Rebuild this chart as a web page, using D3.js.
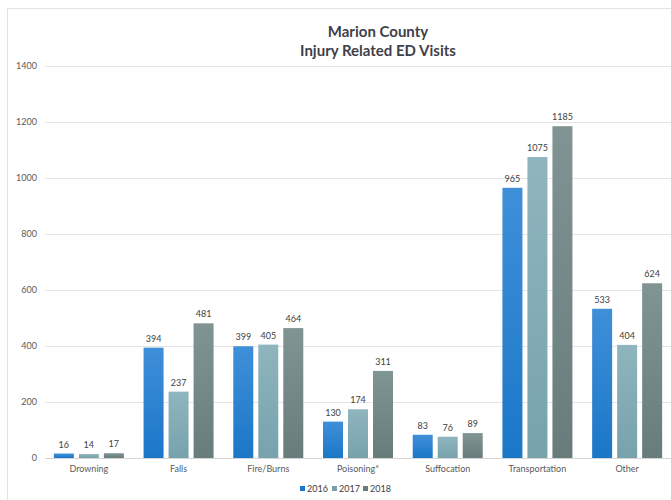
<!DOCTYPE html>
<html>
<head>
<meta charset="utf-8">
<script src="https://cdn.jsdelivr.net/npm/d3@7"></script>
<style>
  body { margin: 0; background: #fff; }
  svg { display: block; font-family: Lato, "Open Sans", sans-serif; }
</style>
</head>
<body>
<svg id="chart" width="671" height="500"></svg>
<script>
const categories = ['Drowning', 'Falls', 'Fire/Burns', 'Poisoning*', 'Suffocation', 'Transportation', 'Other'];
const years = ['2016', '2017', '2018'];
const values2016 = [16, 394, 399, 130, 83, 965, 533];
const values2017 = [14, 237, 405, 174, 76, 1075, 404];
const values2018 = [17, 481, 464, 311, 89, 1185, 624];
const yTicks = [0, 200, 400, 600, 800, 1000, 1200, 1400];

const seriesValues = [values2016, values2017, values2018];
// top/bottom colours of each bar gradient
const seriesColors = [
  ['#3f8fd9', '#1b77c7'],
  ['#8fb5be', '#77a2ac'],
  ['#819494', '#697c7c']
];

const svg = d3.select('#chart');
const margin = { left: 44, right: 671 - 672, top: 66, bottom: 500 - 458 };

// frame
svg.append('rect')
  .attr('x', 7.5).attr('y', 8.5)
  .attr('width', 700).attr('height', 600)
  .attr('fill', 'none')
  .attr('stroke', '#e3e3e3');

const defs = svg.append('defs');
seriesColors.forEach((c, i) => {
  const g = defs.append('linearGradient')
    .attr('id', 'grad' + i)
    .attr('x1', 0).attr('y1', 0).attr('x2', 0).attr('y2', 1);
  g.append('stop').attr('offset', '0%').attr('stop-color', c[0]);
  g.append('stop').attr('offset', '100%').attr('stop-color', c[1]);
});

const x0 = d3.scaleBand()
  .domain(categories)
  .range([44, 672])
  .padding(0);

const x1 = d3.scaleBand()
  .domain(years)
  .range([0, 70])
  .paddingInner(0.2);

const groupOffset = (x0.bandwidth() - 70) / 2;

const y = d3.scaleLinear()
  .domain([0, 1400])
  .range([458, 66]);

// gridlines
svg.append('g')
  .selectAll('line')
  .data(yTicks)
  .enter().append('line')
  .attr('x1', 45).attr('x2', 671)
  .attr('y1', (d) => Math.round(y(d)) + 0.5)
  .attr('y2', (d) => Math.round(y(d)) + 0.5)
  .attr('stroke', (d) => d === 0 ? '#d4d4d4' : '#e4e4e4')
  .attr('stroke-width', 1);

// y tick labels
svg.append('g')
  .selectAll('text')
  .data(yTicks)
  .enter().append('text')
  .attr('x', 37)
  .attr('y', (d) => y(d) + 3)
  .attr('text-anchor', 'end')
  .style('font-size', '9px')
  .style('fill', '#595959')
  .text((d) => d);

// bars
const groups = svg.append('g')
  .selectAll('g')
  .data(categories)
  .enter().append('g')
  .attr('transform', (d) => 'translate(' + (x0(d) + groupOffset) + ',0)');

years.forEach((yr, i) => {
  groups.append('rect')
    .attr('x', (d) => x1(yr))
    .attr('y', (d, j) => y(seriesValues[i][j]))
    .attr('width', x1.bandwidth())
    .attr('height', (d, j) => y(0) - y(seriesValues[i][j]))
    .attr('fill', 'url(#grad' + i + ')');

  groups.append('text')
    .attr('x', (d) => x1(yr) + x1.bandwidth() / 2)
    .attr('y', (d, j) => y(seriesValues[i][j]) - 6)
    .attr('text-anchor', 'middle')
    .style('font-size', '9px')
    .style('fill', '#404040')
    .text((d, j) => seriesValues[i][j]);
});

// category labels
svg.append('g')
  .selectAll('text')
  .data(categories)
  .enter().append('text')
  .attr('x', (d) => x0(d) + x0.bandwidth() / 2)
  .attr('y', 472)
  .attr('text-anchor', 'middle')
  .style('font-size', '9px')
  .style('fill', '#595959')
  .text((d) => d);

// title
const title = svg.append('text')
  .attr('x', 378)
  .attr('text-anchor', 'middle')
  .style('font-size', '15px')
  .style('font-weight', 'bold')
  .style('fill', '#3f3f4a');
title.append('tspan').attr('x', 378).attr('y', 37).text('Marion County');
title.append('tspan').attr('x', 378).attr('y', 56).text('Injury Related ED Visits');

// legend
const legendX = [300, 332, 363];
const legend = svg.append('g')
  .selectAll('g')
  .data(years)
  .enter().append('g')
  .attr('transform', (d, i) => 'translate(' + legendX[i] + ',489)');
legend.append('rect')
  .attr('x', 0).attr('y', -3)
  .attr('width', 5).attr('height', 5)
  .attr('fill', (d, i) => seriesColors[i][1]);
legend.append('text')
  .attr('x', 7).attr('y', 3)
  .style('font-size', '9px')
  .style('fill', '#404040')
  .text((d) => d);
</script>
</body>
</html>
